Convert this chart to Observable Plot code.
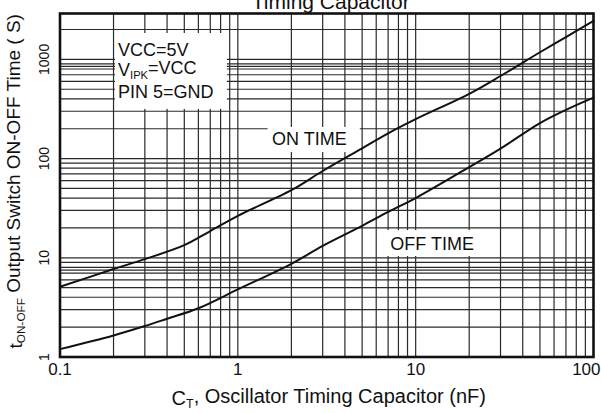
<!DOCTYPE html>
<html><head><meta charset="utf-8">
<script src="https://cdn.jsdelivr.net/npm/d3@7"></script>
<script src="https://cdn.jsdelivr.net/npm/@observablehq/plot@0.6"></script>
<style>
html,body{margin:0;padding:0;background:#fff}
#chart svg{display:block}
</style>
</head><body><div id="chart"></div>
<script>
// ---- data ----
const onCap   = [0.1, 0.2, 0.3, 0.5, 0.7, 1, 2, 3, 5, 7, 10, 20, 30, 50, 70, 100];
const onTime  = [5.1, 7.7, 9.7, 13.4, 18.6, 26.5, 48, 75, 127, 180, 250, 450, 680, 1180, 1680, 2450];
const offCap  = [0.1, 0.2, 0.3, 0.4, 0.6, 1, 2, 3, 5, 7, 10, 20, 30, 50, 70, 100];
const offTime = [1.2, 1.65, 2.05, 2.43, 3.1, 4.8, 8.7, 13.2, 21, 29, 40, 82, 126, 228, 310, 412];

const xTickLabels = [0.1, 1, 10];
const xLastTick = [100];
const yTickLabels = [1, 10, 100, 1000];
const xGrid = [0.2,0.3,0.4,0.5,0.6,0.7,0.8,0.9,1,2,3,4,5,6,7,8,9,10,20,30,40,50,60,70,80,90];
const yGrid = [2,3,4,5,6,7,7.5,8,9,10,20,30,40,50,60,70,80,90,100,200,300,400,500,600,700,800,850,900,1000,2000];

const titleText = "Timing Capacitor";
const xLabel = "CT, Oscillator Timing Capacitor (nF)";
const yLabel = "tON-OFF Output Switch ON-OFF Time ( S)";
const noteLines = ["VCC=5V", "VIPK=VCC", "PIN 5=GND"];
const noteY = [1250, 773, 469];
const noteX = 0.212;
const curveLabels = [
  {text: "ON TIME", x: 1.556, y: 158},
  {text: "OFF TIME", x: 7.2, y: 13.6}
];
const labelBoxes = [
  {x1: 0.205, x2: 0.873, y1: 313, y2: 1824},
  {x1: 1.48, x2: 4.88, y1: 115, y2: 206},
  {x1: 6.7, x2: 28.8, y1: 10.3, y2: 18.8}
];

const onData = onCap.map((c, i) => ({c, t: onTime[i]}));
const offData = offCap.map((c, i) => ({c, t: offTime[i]}));

const font = "Liberation Sans, Arial, Helvetica, sans-serif";
const gridStroke = "#2a2a2a";

const plot = Plot.plot({
  width: 601,
  height: 413,
  marginLeft: 59.5,
  marginRight: 8,
  marginTop: 13,
  marginBottom: 56.5,
  style: {fontFamily: font, background: "#fff", overflow: "visible"},
  x: {type: "log", domain: [0.1, 100], axis: null},
  y: {type: "log", domain: [1, 2901], axis: null},
  marks: [
    Plot.ruleX(xGrid, {stroke: gridStroke, strokeWidth: 1.2}),
    Plot.ruleY(yGrid, {stroke: gridStroke, strokeWidth: 1.2}),
    Plot.rect(labelBoxes, {x1: "x1", x2: "x2", y1: "y1", y2: "y2", fill: "#fff"}),
    Plot.frame({stroke: "#111", strokeWidth: 2.6}),
    Plot.line(onData, {x: "c", y: "t", stroke: "#111", strokeWidth: 2, curve: "catmull-rom"}),
    Plot.line(offData, {x: "c", y: "t", stroke: "#111", strokeWidth: 2, curve: "catmull-rom"}),
    Plot.text(noteLines, {x: () => noteX, y: (d, i) => noteY[i], text: d => d, textAnchor: "start",
      lineAnchor: "middle", fontSize: 18, fill: "#111"}),
    Plot.text(curveLabels, {x: "x", y: "y", text: "text", textAnchor: "start",
      lineAnchor: "middle", fontSize: 18, fill: "#111"}),
    // tick labels
    Plot.text(xTickLabels, {x: d => d, frameAnchor: "bottom", text: d => String(d),
      lineAnchor: "top", textAnchor: "middle", dy: 6, fontSize: 17, fill: "#111"}),
    Plot.text(xLastTick, {x: d => d, frameAnchor: "bottom", text: d => String(d),
      lineAnchor: "top", textAnchor: "end", dx: 7, dy: 6, fontSize: 17, fill: "#111"}),
    Plot.text(yTickLabels, {y: d => d, frameAnchor: "left", text: d => String(d),
      rotate: -90, textAnchor: "middle", lineAnchor: "middle", dx: -15, fontSize: 14, fill: "#111"}),
    // axis labels and title
    Plot.text([xLabel], {frameAnchor: "bottom", text: d => d, lineAnchor: "bottom", textAnchor: "middle",
      dy: 48, dx: 2, fontSize: 20, fill: "#111"}),
    Plot.text([yLabel], {frameAnchor: "left", text: d => d, rotate: -90, textAnchor: "middle",
      lineAnchor: "middle", dx: -44, dy: -4, fontSize: 19, fill: "#111"}),
    Plot.text([titleText], {frameAnchor: "top", text: d => d, lineAnchor: "bottom", textAnchor: "middle",
      dy: -5, dx: 4, fontSize: 21, fill: "#111"})
  ]
});

// subscripts as real tspans
function subscript(fullText, head, sub, tail) {
  d3.select(plot).selectAll("text").filter(function() { return this.textContent === fullText; })
    .each(function() {
      const t = d3.select(this);
      t.text(null);
      t.append("tspan").text(head);
      t.append("tspan").attr("font-size", "0.62em").attr("dy", "0.28em").text(sub);
      t.append("tspan").attr("dy", "-0.28em").text(tail);
    });
}
subscript("VIPK=VCC", "V", "IPK", "=VCC");
subscript(xLabel, "C", "T", ", Oscillator Timing Capacitor (nF)");
subscript(yLabel, "t", "ON-OFF", " Output Switch ON-OFF Time ( S)");

document.getElementById("chart").appendChild(plot);
</script>
</body></html>
